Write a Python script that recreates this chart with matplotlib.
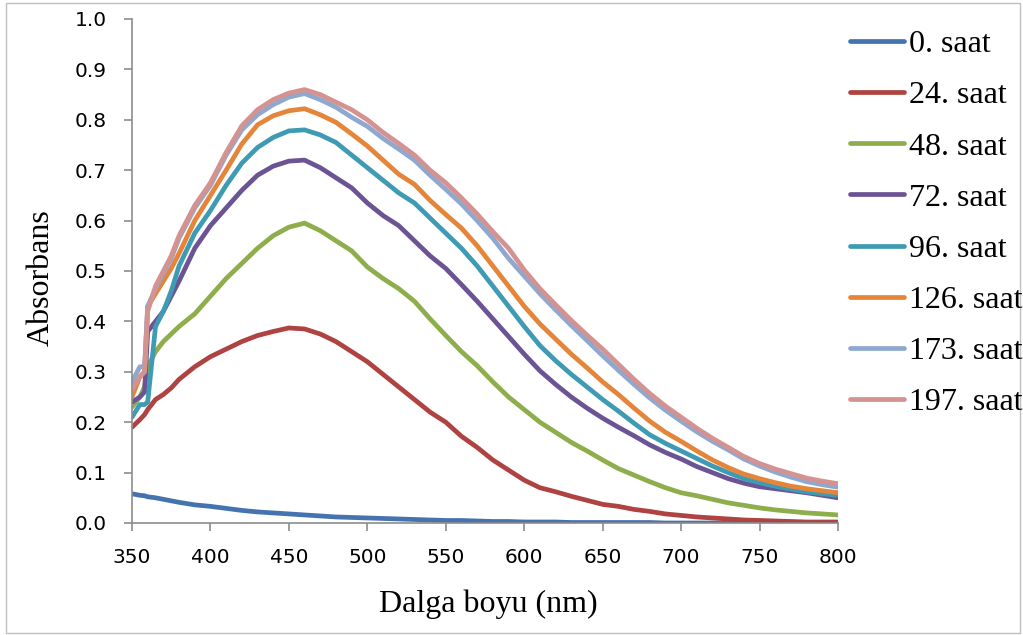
import matplotlib
matplotlib.use("Agg")
import matplotlib.pyplot as plt
from matplotlib.patches import Rectangle

# ---------------- data ----------------
wavelength = [350, 355, 358, 360, 365, 370, 375, 380, 390, 400, 410, 420, 430, 440, 450,
              460, 470, 480, 490, 500, 510, 520, 530, 540, 550, 560, 570, 580, 590, 600,
              610, 620, 630, 640, 650, 660, 670, 680, 690, 700, 710, 720, 730, 740, 750,
              760, 770, 780, 790, 800]

labels = ["0. saat", "24. saat", "48. saat", "72. saat", "96. saat",
          "126. saat", "173. saat", "197. saat"]

h0 = [0.058, 0.055, 0.054, 0.052, 0.050, 0.047, 0.044, 0.041, 0.036, 0.033, 0.029, 0.025,
      0.022, 0.020, 0.018, 0.016, 0.014, 0.012, 0.011, 0.010, 0.009, 0.008, 0.007, 0.006,
      0.005, 0.005, 0.004, 0.003, 0.003, 0.002, 0.002, 0.002, 0.001, 0.001, 0.001, 0.001,
      0.001, 0.001, 0.000, 0.000, 0.000, 0.000, 0.000, 0.000, 0.000, 0.000, 0.000, 0.000,
      0.000, 0.000]

h24 = [0.190, 0.205, 0.215, 0.225, 0.245, 0.255, 0.268, 0.285, 0.310, 0.330, 0.345, 0.360,
       0.372, 0.380, 0.387, 0.385, 0.375, 0.360, 0.340, 0.320, 0.295, 0.270, 0.245, 0.220,
       0.200, 0.172, 0.150, 0.125, 0.105, 0.085, 0.070, 0.062, 0.053, 0.045, 0.037, 0.033,
       0.027, 0.023, 0.018, 0.015, 0.012, 0.010, 0.008, 0.006, 0.005, 0.004, 0.003, 0.002,
       0.002, 0.002]

h48 = [0.230, 0.250, 0.270, 0.310, 0.340, 0.360, 0.375, 0.390, 0.415, 0.450, 0.485, 0.515,
       0.545, 0.570, 0.587, 0.595, 0.580, 0.560, 0.540, 0.508, 0.485, 0.465, 0.440, 0.405,
       0.372, 0.340, 0.312, 0.280, 0.250, 0.225, 0.200, 0.180, 0.160, 0.143, 0.125, 0.108,
       0.095, 0.082, 0.070, 0.060, 0.054, 0.047, 0.040, 0.035, 0.030, 0.026, 0.023, 0.020,
       0.018, 0.016]

h72 = [0.240, 0.250, 0.260, 0.380, 0.400, 0.420, 0.450, 0.480, 0.545, 0.590, 0.625, 0.660,
       0.690, 0.708, 0.718, 0.720, 0.705, 0.685, 0.665, 0.635, 0.610, 0.590, 0.560, 0.530,
       0.505, 0.473, 0.440, 0.405, 0.370, 0.335, 0.302, 0.275, 0.250, 0.228, 0.208, 0.190,
       0.173, 0.155, 0.140, 0.127, 0.112, 0.100, 0.088, 0.079, 0.072, 0.068, 0.064, 0.060,
       0.055, 0.050]

h96 = [0.210, 0.235, 0.235, 0.240, 0.390, 0.420, 0.460, 0.510, 0.575, 0.620, 0.670, 0.714,
       0.745, 0.765, 0.778, 0.780, 0.770, 0.755, 0.730, 0.705, 0.680, 0.655, 0.635, 0.605,
       0.575, 0.545, 0.510, 0.470, 0.430, 0.390, 0.352, 0.322, 0.295, 0.270, 0.245, 0.222,
       0.198, 0.175, 0.158, 0.143, 0.128, 0.113, 0.100, 0.088, 0.080, 0.073, 0.067, 0.062,
       0.058, 0.055]

h126 = [0.250, 0.290, 0.300, 0.430, 0.455, 0.480, 0.505, 0.535, 0.600, 0.650, 0.700, 0.752,
        0.790, 0.808, 0.818, 0.822, 0.810, 0.795, 0.772, 0.748, 0.720, 0.692, 0.672, 0.640,
        0.612, 0.585, 0.550, 0.510, 0.470, 0.430, 0.395, 0.365, 0.335, 0.308, 0.280, 0.255,
        0.228, 0.202, 0.180, 0.162, 0.143, 0.125, 0.110, 0.097, 0.088, 0.080, 0.073, 0.068,
        0.064, 0.060]

h173 = [0.280, 0.310, 0.310, 0.430, 0.465, 0.495, 0.525, 0.565, 0.625, 0.670, 0.730, 0.780,
        0.810, 0.830, 0.845, 0.852, 0.840, 0.825, 0.805, 0.787, 0.763, 0.742, 0.720, 0.690,
        0.662, 0.633, 0.600, 0.565, 0.525, 0.490, 0.455, 0.423, 0.392, 0.362, 0.332, 0.303,
        0.275, 0.248, 0.224, 0.202, 0.181, 0.162, 0.145, 0.127, 0.113, 0.101, 0.091, 0.082,
        0.076, 0.071]

h197 = [0.265, 0.290, 0.300, 0.420, 0.470, 0.500, 0.530, 0.570, 0.630, 0.675, 0.735, 0.788,
        0.820, 0.840, 0.853, 0.860, 0.850, 0.835, 0.820, 0.800, 0.775, 0.753, 0.730, 0.700,
        0.675, 0.645, 0.613, 0.578, 0.545, 0.502, 0.465, 0.433, 0.402, 0.373, 0.345, 0.315,
        0.285, 0.257, 0.232, 0.210, 0.188, 0.168, 0.150, 0.132, 0.118, 0.107, 0.098, 0.089,
        0.083, 0.078]

series = [h0, h24, h48, h72, h96, h126, h173, h197]
colors = ["#4573B0", "#AE4341", "#8DAE4B", "#6C5494", "#3F9BB4",
          "#E4853A", "#8FA8D0", "#D49291"]

x_ticks = [350, 400, 450, 500, 550, 600, 650, 700, 750, 800]
y_ticks = [0.0, 0.1, 0.2, 0.3, 0.4, 0.5, 0.6, 0.7, 0.8, 0.9, 1.0]

# ---------------- figure ----------------
W, H = 1023, 635
fig = plt.figure(figsize=(W / 100, H / 100), dpi=100)
fig.patch.set_facecolor("white")
fig.patches.append(Rectangle((6 / W, 2 / H), (1020 - 6) / W, (632 - 2) / H,
                             transform=fig.transFigure, fill=False,
                             edgecolor="#BFBFBF", linewidth=1.0))

ax = fig.add_axes([132 / W, 1 - 523 / H, 706 / W, 504 / H])

for vals, lab, col in zip(series, labels, colors):
    ax.plot(wavelength, vals, color=col, linewidth=3.4, label=lab,
            solid_capstyle="round", solid_joinstyle="round")

ax.set_xlim(350, 800)
ax.set_ylim(0, 1.0)
ax.set_xticks(x_ticks)
ax.set_yticks(y_ticks)
ax.set_xticklabels([str(v) for v in x_ticks])
ax.set_yticklabels([f"{v:.1f}" for v in y_ticks])

for side in ["top", "right"]:
    ax.spines[side].set_visible(False)
for side in ["left", "bottom"]:
    ax.spines[side].set_color("#8C8C8C")
    ax.spines[side].set_linewidth(1.2)

ax.tick_params(axis="both", direction="out", length=6, width=1.2, color="#8C8C8C",
               labelsize=14.5, pad=12, labelcolor="black")
for t in ax.get_xticklabels() + ax.get_yticklabels():
    t.set_fontfamily("DejaVu Sans")

serif = ["Liberation Serif", "DejaVu Serif"]
fig.text(488 / W, 1 - 612 / H, "Dalga boyu (nm)", ha="center", va="baseline",
         fontsize=23, family=serif)
fig.text(41 / W, 1 - 278 / H, "Absorbans", ha="center", va="center",
         rotation=90, fontsize=23, family=serif)

leg = fig.legend(loc="upper left", bbox_to_anchor=(850 / W, 1 - 30 / H),
                 frameon=False, borderpad=0, borderaxespad=0,
                 handlelength=1.7, handletextpad=0.15, labelspacing=0.68,
                 prop={"family": serif, "size": 23})
for line in leg.get_lines():
    line.set_linewidth(3.4)

fig.savefig("out.png", dpi=100, facecolor="white")
